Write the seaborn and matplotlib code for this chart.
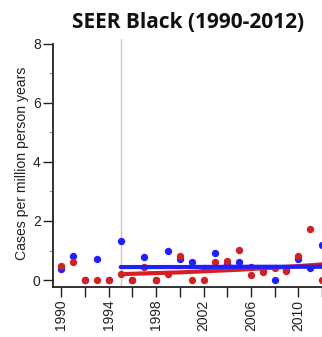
import numpy as np
import pandas as pd
import matplotlib
matplotlib.use("Agg")
import matplotlib.pyplot as plt
import seaborn as sns
from matplotlib.ticker import MultipleLocator

sns.set_theme(style="ticks")
plt.rcParams["font.family"] = ["Liberation Sans", "DejaVu Sans"]

# Incidence per million person-years, SEER Black population
years = list(range(1990, 2013))
blue_rate = [0.38, 0.81, 0.00, 0.70, 0.00, 1.31, 0.00, 0.78, 0.00, 0.99, 0.70,
             0.60, 0.42, 0.91, 0.54, 0.62, 0.45, 0.30, 0.00, 0.34, 0.70, 0.42, 1.18]
red_rate = [0.46, 0.61, 0.00, 0.00, 0.00, 0.21, 0.00, 0.43, 0.00, 0.20, 0.82,
            0.00, 0.00, 0.60, 0.65, 1.03, 0.18, 0.26, 0.42, 0.30, 0.82, 1.74, 0.00]

# Fitted trends from 1995 onward
trend_years = [1995, 2000, 2005, 2010, 2012]
blue_trend = [0.44, 0.44, 0.45, 0.45, 0.45]
red_trend = [0.20, 0.26, 0.35, 0.47, 0.53]

title = "SEER Black (1990-2012)"
ylabel = "Cases per million person years"

BLUE = "#1f1fff"
RED = "#d42020"

pts = pd.DataFrame({"year": years, "blue": blue_rate, "red": red_rate})
trend = pd.DataFrame({"year": trend_years, "blue": blue_trend, "red": red_trend})

fig = plt.figure(figsize=(3.22, 3.37), dpi=100)
ax = fig.add_axes([0.165, 0.148, 0.835, 0.736])

ax.axvline(1995, color="#c8c8c8", lw=1.0, zorder=0)

sns.scatterplot(data=pts, x="year", y="blue", color=BLUE, s=28, linewidth=0,
                ax=ax, zorder=3)
sns.scatterplot(data=pts, x="year", y="red", color=RED, s=28, linewidth=0,
                ax=ax, zorder=3)
sns.lineplot(data=trend, x="year", y="red", color=RED, lw=3.0, ax=ax, zorder=4)
sns.lineplot(data=trend, x="year", y="blue", color=BLUE, lw=3.0, ax=ax, zorder=4)

ax.set_xlim(1989.3, 2012.0)
ax.set_ylim(-0.24, 8.16)

ax.set_yticks([0, 2, 4, 6, 8])
ax.yaxis.set_minor_locator(MultipleLocator(1))
ax.set_xticks(list(range(1990, 2013, 2)))
ax.set_xticklabels([str(y) if (y - 1990) % 4 == 0 else "" for y in range(1990, 2013, 2)],
                   rotation=90)

ax.tick_params(axis="both", which="major", length=7, width=1.0, color="#222222",
               labelsize=10, pad=2, labelcolor="#222222")
ax.tick_params(axis="y", which="minor", length=3, width=0.8, color="#999999")

sns.despine(ax=ax)
ax.spines["left"].set_bounds(-0.24, 8)
for s in ("left", "bottom"):
    ax.spines[s].set_linewidth(1.3)
    ax.spines[s].set_color("#222222")

ax.set_xlabel("")
ax.set_ylabel(ylabel, fontsize=10.1, color="#222222", labelpad=3)
fig.text(0.585, 0.932, title, ha="center", va="center", fontsize=15,
         fontweight="bold", family=["Open Sans", "DejaVu Sans"], color="#111111")

fig.savefig("out.png", dpi=100)
